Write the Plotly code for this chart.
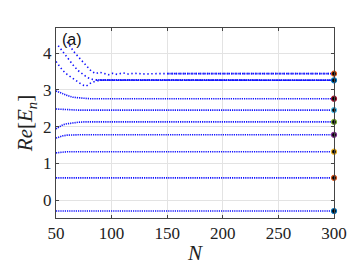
import plotly.graph_objects as go

# Converged levels at N = 300 (bottom to top)
levels = [-0.29, 0.61, 1.32, 1.78, 2.13, 2.45, 2.76, 3.26, 3.44]
level_colors = ["#0072BD", "#D95319", "#EDB120", "#7E2F8E", "#77AC30",
                "#4DBEEE", "#A2142F", "#0072BD", "#D95319"]

# Individual branches: (N values, Re[E_n] values)
b1_N = [50, 300]
b1_v = [-0.29, -0.29]
b2_N = [50, 300]
b2_v = [0.61, 0.61]
b3_N = [50, 55, 60, 300]
b3_v = [1.29, 1.31, 1.32, 1.32]
b4_N = [50, 53, 56, 60, 65, 70, 300]
b4_v = [1.69, 1.73, 1.75, 1.77, 1.78, 1.78, 1.78]
b5_N = [50, 53, 56, 60, 65, 70, 75, 300]
b5_v = [1.94, 2.00, 2.05, 2.08, 2.11, 2.12, 2.13, 2.13]
b6_N = [50, 60, 70, 300]
b6_v = [2.48, 2.46, 2.45, 2.45]
b7_N = [50, 55, 60, 65, 70, 75, 80, 300]
b7_v = [2.97, 2.90, 2.85, 2.80, 2.78, 2.77, 2.76, 2.76]
b8_N = [50, 53, 56, 60, 64, 68, 72, 75, 77, 79, 82, 86, 90, 300]
b8_v = [3.77, 3.65, 3.53, 3.42, 3.33, 3.25, 3.17, 3.12, 3.10, 3.14, 3.20, 3.24, 3.26, 3.26]
b9_N = [52, 55, 58, 62, 66, 70, 74, 78, 82, 86, 300]
b9_v = [4.20, 4.08, 3.96, 3.80, 3.65, 3.52, 3.42, 3.34, 3.29, 3.27, 3.26]
b10_N = [60, 63, 66, 70, 74, 78, 82, 86, 89, 93, 97, 101, 105, 110, 115, 120, 130, 140, 150, 300]
b10_v = [4.30, 4.16, 4.04, 3.90, 3.76, 3.62, 3.50, 3.44, 3.48, 3.45, 3.41, 3.45, 3.42, 3.46, 3.43, 3.45, 3.43, 3.44, 3.44, 3.44]

branches = [(b1_N, b1_v), (b2_N, b2_v), (b3_N, b3_v), (b4_N, b4_v), (b5_N, b5_v),
            (b6_N, b6_v), (b7_N, b7_v), (b8_N, b8_v), (b9_N, b9_v), (b10_N, b10_v)]

N_end = 300

fig = go.Figure()
for i, (bn, bv) in enumerate(branches):
    dash = "1.4px,2.6px" if i >= 7 else "1.2px,1px"
    fig.add_trace(go.Scatter(x=bn, y=bv, mode="lines",
                             line=dict(color="#1010ff", width=1.6, dash=dash),
                             showlegend=False, hoverinfo="skip"))
    if i >= 7:
        # converged part drawn densely
        fig.add_trace(go.Scatter(x=[bn[-2], bn[-1]], y=[bv[-2], bv[-1]], mode="lines",
                                 line=dict(color="#1010ff", width=1.6, dash="1.2px,1px"),
                                 showlegend=False, hoverinfo="skip"))

fig.add_trace(go.Scatter(x=[N_end] * len(levels), y=levels, mode="markers",
                         marker=dict(size=5, color="black",
                                     line=dict(color=level_colors, width=1.2)),
                         showlegend=False, cliponaxis=False))

serif = "Liberation Serif"
axis_common = dict(showline=True, linecolor="#444444", linewidth=1, mirror="ticks",
                   ticks="inside", ticklen=3, tickcolor="#444444",
                   showgrid=True, gridcolor="#e3e3e3", gridwidth=1, zeroline=False,
                   tickfont=dict(family=serif, size=17, color="#222222"))

fig.update_layout(
    width=360, height=270,
    margin=dict(l=48, r=34, t=20, b=60),
    paper_bgcolor="white", plot_bgcolor="white",
    xaxis=dict(range=[50, 300], tickvals=[50, 100, 150, 200, 250, 300],
               title=dict(text="<i>N</i>", font=dict(family=serif, size=21, color="#222222"),
                          standoff=2),
               **axis_common),
    yaxis=dict(range=[-0.48, 4.68], tickvals=[0, 1, 2, 3, 4],
               title=dict(text="<i>Re</i>[<i>E<sub>n</sub></i>]",
                          font=dict(family=serif, size=21, color="#222222"), standoff=4),
               **axis_common),
    annotations=[dict(text="(a)", x=0.015, y=0.995, xref="paper", yref="paper",
                      xanchor="left", yanchor="top", showarrow=False,
                      font=dict(family="Liberation Sans", size=16, color="#111111"))],
)

fig.write_html("out.html")
